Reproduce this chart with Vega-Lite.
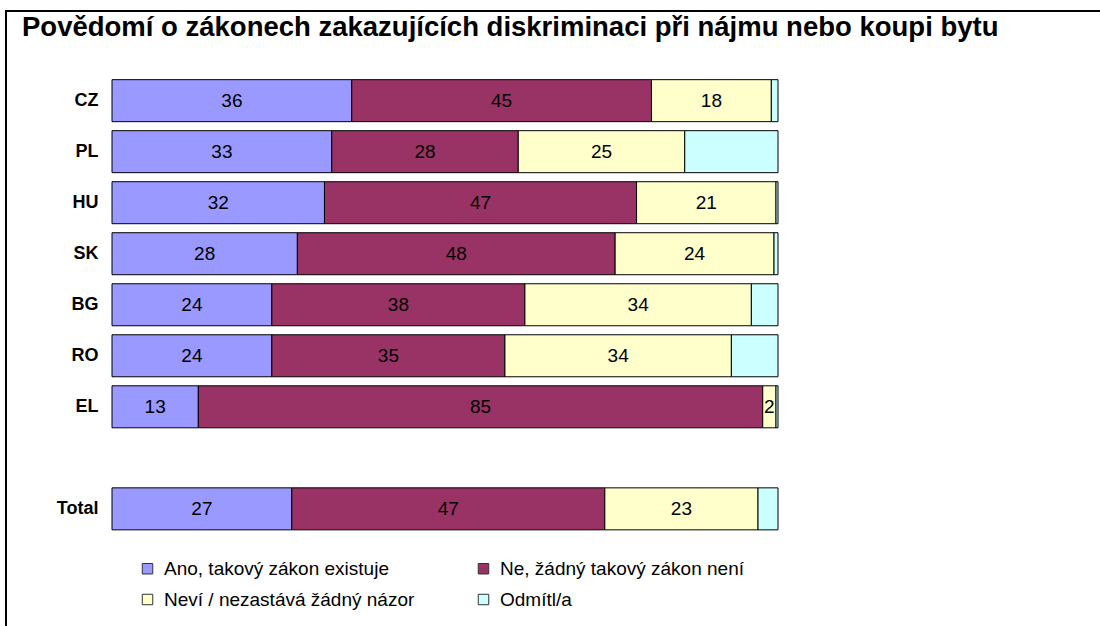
{
  "$schema": "https://vega.github.io/schema/vega-lite/v6.json",
  "autosize": {"type": "none"},
  "padding": {"left": 6, "top": 11, "right": 0, "bottom": 0},
  "width": 1100,
  "height": 640,
  "background": "white",
  "config": {
    "font": "Liberation Sans",
    "view": {"stroke": "#000000", "strokeWidth": 2}
  },
  "title": {
    "text": "Povědomí o zákonech zakazujících diskriminaci při nájmu nebo koupi bytu",
    "anchor": "start",
    "orient": "top",
    "fontSize": 27.5,
    "fontWeight": "bold",
    "color": "#000000",
    "baseline": "alphabetic",
    "offset": -52,
    "dx": 16
  },
  "data": {
    "values": [
      {"country": "CZ", "answer": "Ano, takový zákon existuje", "value": 36},
      {"country": "CZ", "answer": "Ne, žádný takový zákon není", "value": 45},
      {"country": "CZ", "answer": "Neví / nezastává žádný názor", "value": 18},
      {"country": "CZ", "answer": "Odmítl/a", "value": 1},
      {"country": "PL", "answer": "Ano, takový zákon existuje", "value": 33},
      {"country": "PL", "answer": "Ne, žádný takový zákon není", "value": 28},
      {"country": "PL", "answer": "Neví / nezastává žádný názor", "value": 25},
      {"country": "PL", "answer": "Odmítl/a", "value": 14},
      {"country": "HU", "answer": "Ano, takový zákon existuje", "value": 32},
      {"country": "HU", "answer": "Ne, žádný takový zákon není", "value": 47},
      {"country": "HU", "answer": "Neví / nezastává žádný názor", "value": 21},
      {"country": "HU", "answer": "Odmítl/a", "value": 0.3},
      {"country": "SK", "answer": "Ano, takový zákon existuje", "value": 28},
      {"country": "SK", "answer": "Ne, žádný takový zákon není", "value": 48},
      {"country": "SK", "answer": "Neví / nezastává žádný názor", "value": 24},
      {"country": "SK", "answer": "Odmítl/a", "value": 0.6},
      {"country": "BG", "answer": "Ano, takový zákon existuje", "value": 24},
      {"country": "BG", "answer": "Ne, žádný takový zákon není", "value": 38},
      {"country": "BG", "answer": "Neví / nezastává žádný názor", "value": 34},
      {"country": "BG", "answer": "Odmítl/a", "value": 4},
      {"country": "RO", "answer": "Ano, takový zákon existuje", "value": 24},
      {"country": "RO", "answer": "Ne, žádný takový zákon není", "value": 35},
      {"country": "RO", "answer": "Neví / nezastává žádný názor", "value": 34},
      {"country": "RO", "answer": "Odmítl/a", "value": 7},
      {"country": "EL", "answer": "Ano, takový zákon existuje", "value": 13},
      {"country": "EL", "answer": "Ne, žádný takový zákon není", "value": 85},
      {"country": "EL", "answer": "Neví / nezastává žádný názor", "value": 2},
      {"country": "EL", "answer": "Odmítl/a", "value": 0.3},
      {"country": "Total", "answer": "Ano, takový zákon existuje", "value": 27},
      {"country": "Total", "answer": "Ne, žádný takový zákon není", "value": 47},
      {"country": "Total", "answer": "Neví / nezastává žádný názor", "value": 23},
      {"country": "Total", "answer": "Odmítl/a", "value": 3}
    ]
  },
  "encoding": {
    "y": {
      "field": "country",
      "type": "nominal",
      "scale": {
        "domain": [" ", "CZ", "PL", "HU", "SK", "BG", "RO", "EL", "  ", "Total", "   ", "    "],
        "paddingInner": 0.1768,
        "paddingOuter": 0.36,
        "align": 0.48,
        "round": false
      },
      "axis": {
        "title": null,
        "offset": -92,
        "ticks": false,
        "domain": false,
        "labelPadding": 0,
        "labelFontSize": 18,
        "labelFontWeight": "bold",
        "labelColor": "#000000",
        "labelAlign": "right",
        "labelBaseline": "middle"
      }
    },
    "order": {"field": "answer", "type": "nominal", "sort": "ascending"}
  },
  "layer": [
    {
      "mark": {"type": "bar", "stroke": "#000000", "strokeWidth": 1},
      "encoding": {
        "x": {
          "field": "value",
          "type": "quantitative",
          "stack": "normalize",
          "scale": {"domain": [-0.15916, 1.49249], "nice": false, "zero": false},
          "axis": null
        },
        "color": {
          "field": "answer",
          "type": "nominal",
          "scale": {
            "domain": ["Ano, takový zákon existuje", "Ne, žádný takový zákon není", "Neví / nezastává žádný názor", "Odmítl/a"],
            "range": ["#9999FF", "#993366", "#FFFFCC", "#CCFFFF"]
          },
          "legend": {
            "title": null,
            "orient": "none",
            "legendX": 132,
            "legendY": 548,
            "direction": "horizontal",
            "columns": 2,
            "padding": 0,
            "columnPadding": 59,
            "rowPadding": 11,
            "symbolType": "square",
            "symbolSize": 110,
            "symbolStrokeColor": "#333333",
            "symbolStrokeWidth": 1,
            "symbolOpacity": 1,
            "labelFontSize": 19,
            "labelColor": "#000000",
            "labelOffset": 7,
            "labelLimit": 400,
            "encode": {
              "symbols": {
                "update": {
                  "fill": {"scale": "color", "field": "value"},
                  "fillOpacity": {"value": 1},
                  "stroke": {"value": "#333333"}
                }
              }
            }
          }
        }
      }
    },
    {
      "mark": {"type": "text", "fontSize": 19, "color": "#000000", "align": "center", "baseline": "middle"},
      "encoding": {
        "x": {
          "field": "value",
          "type": "quantitative",
          "stack": "normalize",
          "bandPosition": 0.5
        },
        "text": {
          "condition": {"test": "datum.answer === 'Odmítl/a'", "value": ""},
          "field": "value",
          "type": "quantitative",
          "format": ".0f"
        }
      }
    }
  ]
}
